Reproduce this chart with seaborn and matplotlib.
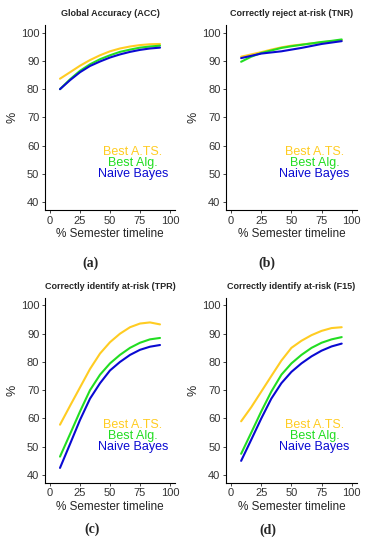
import pandas as pd
import seaborn as sns
from matplotlib import pyplot as plt

sns.set_style('ticks')
plt.rcParams['font.family'] = ['Liberation Sans', 'DejaVu Sans']

# % of semester elapsed
timeline = [8.3, 16.7, 25, 33.3, 41.7, 50, 58.3, 66.7, 75, 83.3, 91.7]

methods = ['Best A.TS.', 'Best Alg.', 'Naive Bayes']
colors = ['#FFCC22', '#22DD22', '#0A0AD2']

acc_ats = [83.7, 86.0, 88.3, 90.3, 92.0, 93.4, 94.4, 95.1, 95.6, 95.9, 96.0]
acc_alg = [80.0, 83.5, 86.5, 88.8, 90.6, 92.0, 93.2, 94.0, 94.7, 95.1, 95.4]
acc_nb = [80.0, 83.2, 86.0, 88.2, 89.8, 91.2, 92.3, 93.2, 93.9, 94.4, 94.7]

tnr_ats = [91.5, 92.3, 93.1, 94.0, 94.8, 95.4, 95.8, 96.2, 96.6, 96.9, 97.3]
tnr_alg = [89.7, 91.5, 92.8, 93.7, 94.6, 95.2, 95.7, 96.2, 96.7, 97.1, 97.6]
tnr_nb = [91.0, 91.8, 92.6, 93.0, 93.4, 94.0, 94.6, 95.3, 96.0, 96.5, 97.0]

tpr_ats = [57.8, 64.5, 71.0, 77.5, 83.0, 87.0, 90.0, 92.3, 93.6, 94.0, 93.3]
tpr_alg = [46.5, 54.5, 62.5, 70.0, 75.5, 79.5, 82.5, 85.0, 86.8, 88.0, 88.5]
tpr_nb = [42.5, 51.0, 59.5, 67.0, 72.5, 77.0, 80.0, 82.5, 84.3, 85.4, 86.0]

f15_ats = [59.0, 64.0, 69.5, 75.0, 80.5, 85.0, 87.5, 89.5, 91.0, 92.0, 92.3]
f15_alg = [47.5, 55.0, 62.5, 69.5, 75.5, 79.5, 82.5, 85.0, 86.8, 88.0, 88.8]
f15_nb = [45.0, 52.5, 60.0, 67.0, 72.5, 76.5, 79.5, 82.0, 84.0, 85.5, 86.5]

titles = ['Global Accuracy (ACC)', 'Correctly reject at-risk (TNR)',
          'Correctly identify at-risk (TPR)', 'Correctly identify at-risk (F15)']
panel_tags = ['(a)', '(b)', '(c)', '(d)']
panels = [
    [acc_ats, acc_alg, acc_nb],
    [tnr_ats, tnr_alg, tnr_nb],
    [tpr_ats, tpr_alg, tpr_nb],
    [f15_ats, f15_alg, f15_nb],
]

fig = plt.figure(figsize=(3.71, 5.5), dpi=100)
# axes boxes [left, bottom, width, height] in figure fraction
boxes = [
    [0.121, 0.618, 0.351, 0.337],
    [0.609, 0.618, 0.353, 0.337],
    [0.121, 0.122, 0.351, 0.337],
    [0.609, 0.122, 0.353, 0.337],
]
tag_pos = [(0.243, 0.515), (0.72, 0.515), (0.248, 0.031), (0.722, 0.029)]

for i in range(4):
    ax = fig.add_axes(boxes[i])
    rows = []
    for m, vals in zip(methods, panels[i]):
        for t, v in zip(timeline, vals):
            rows.append({'timeline': t, 'value': v, 'method': m})
    df = pd.DataFrame(rows)
    sns.lineplot(data=df, x='timeline', y='value', hue='method',
                 palette=colors, hue_order=methods, lw=1.5, legend=False, ax=ax)
    ax.set_xlim(-4.3, 104.3)
    ax.set_ylim(37.2, 102.8)
    ax.set_xticks([0, 25, 50, 75, 100])
    ax.set_yticks([40, 50, 60, 70, 80, 90, 100])
    ax.tick_params(labelsize=8, labelcolor='#333333', length=2.5, width=0.6,
                   pad=1.5)
    for s in ['left', 'bottom']:
        ax.spines[s].set_linewidth(0.8)
        ax.spines[s].set_color('black')
    sns.despine(ax=ax)
    ax.set_xlabel('% Semester timeline', fontsize=8.5, labelpad=1.5)
    ax.set_ylabel('%', fontsize=9, labelpad=2)
    ax.set_title(titles[i], fontsize=6.5, fontweight='bold', pad=6)
    for k, (m, c) in enumerate(zip(methods, colors)):
        ax.text(69, 57.8 - 3.9 * k, m, color=c, fontsize=9, ha='center', va='center')
    fig.text(tag_pos[i][0], tag_pos[i][1], panel_tags[i], ha='center',
             fontsize=10, fontweight='bold',
             family=['Liberation Serif', 'DejaVu Serif'])

fig.savefig('out.png', dpi=100)
